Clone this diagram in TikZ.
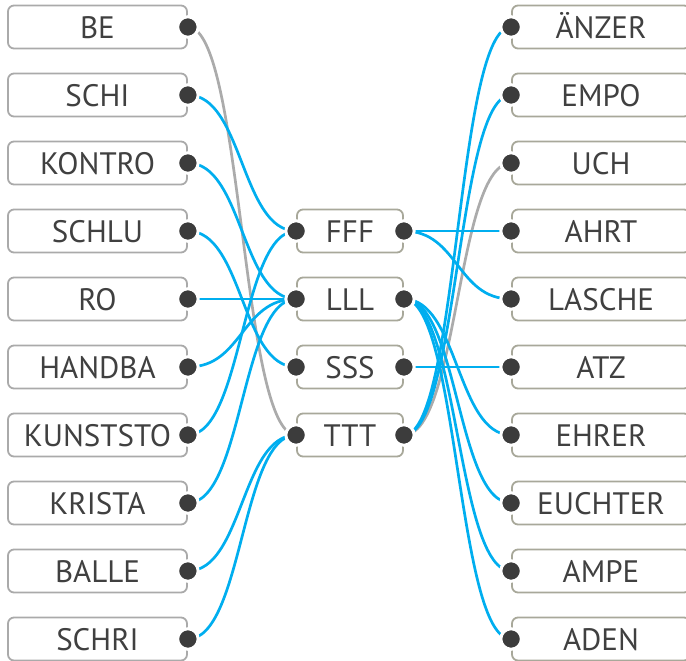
\documentclass[tikz,border=0pt]{standalone}
\usepackage{fontspec}
\setmainfont{PT Sans}
\definecolor{txt}{HTML}{404040}
\definecolor{dotc}{HTML}{3C3C3C}
\definecolor{lbord}{HTML}{AAAAAA}
\definecolor{gbord}{HTML}{A8A89A}
\definecolor{cyanl}{HTML}{00AEEF}
\definecolor{grayl}{HTML}{ABABAB}
\tikzset{
  box/.style={draw, line width=1.8pt, rounded corners=6pt, minimum height=43pt, inner sep=0pt,
    text height=22.5pt, text depth=0pt, font=\fontsize{31}{31}\selectfont, text=txt, fill=white},
  lbox/.style={box, draw=lbord, minimum width=179pt},
  mbox/.style={box, draw=gbord, minimum width=106pt},
  rbox/.style={box, draw=gbord, minimum width=178pt},
  conn/.style={line width=2.7pt, draw=cyanl},
  gconn/.style={line width=2.7pt, draw=grayl},
  dotmark/.style={circle, fill=dotc, draw=white, line width=3pt, minimum size=20.5pt, inner sep=0pt}
}
\begin{document}
\begin{tikzpicture}[x=1pt,y=-1pt]
\useasboundingbox (0,0) rectangle (686,661);
% left boxes
\foreach \n/\t [count=\i from 0] in {L0/BE,L1/SCHI,L2/KONTRO,L3/SCHLU,L4/RO,L5/HANDBA,L6/KUNSTSTO,L7/KRISTA,L8/BALLE,L9/SCHRI}
  \node[lbox] (\n) at (97.5,27+68*\i) {\t};
% middle boxes
\foreach \n/\t [count=\i from 3] in {F/FFF,L/LLL,S/SSS,T/TTT}
  \node[mbox] (\n) at (350,27+68*\i) {\t};
% right boxes
\foreach \n/\t [count=\i from 0] in {R0/ÄNZER,R1/EMPO,R2/UCH,R3/AHRT,R4/LASCHE,R5/ATZ,R6/EHRER,R7/EUCHTER,R8/AMPE,R9/ADEN}
  \node[rbox] (\n) at (601,27+68*\i) {\t};
% left connectors
\draw[gconn] (L0.east) .. controls +(55,0) and +(-55,0) .. (T.west);
\foreach \a/\b in {L1/F,L2/L,L3/S,L4/L,L5/L,L6/F,L7/L,L8/T,L9/T}
  \draw[conn] (\a.east) .. controls +(55,0) and +(-55,0) .. (\b.west);
% right connectors
\draw[gconn] (T.east) .. controls +(54.5,0) and +(-54.5,0) .. (R2.west);
\foreach \a/\b in {F/R3,F/R4,L/R6,L/R7,L/R8,L/R9,S/R5,T/R0,T/R1}
  \draw[conn] (\a.east) .. controls +(54.5,0) and +(-54.5,0) .. (\b.west);
% dots
\foreach \n in {L0,L1,L2,L3,L4,L5,L6,L7,L8,L9,F,L,S,T}
  \node[dotmark] (\n-d) at (\n.east) {};
\foreach \n in {F,L,S,T,R0,R1,R2,R3,R4,R5,R6,R7,R8,R9}
  \node[dotmark] (\n-dw) at (\n.west) {};
\end{tikzpicture}
\end{document}
